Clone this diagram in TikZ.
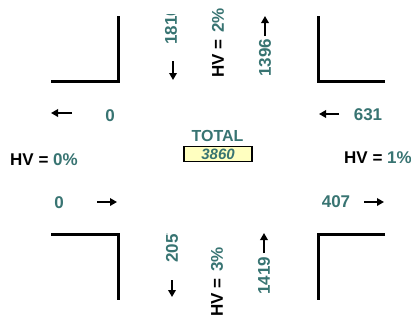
\documentclass[tikz,border=0pt]{standalone}
\usepackage{fontspec}
\setmainfont{Liberation Sans}
\usetikzlibrary{arrows.meta}
\definecolor{tealnum}{RGB}{56,116,114}
\definecolor{totfill}{RGB}{255,255,192}
\begin{document}
\begin{tikzpicture}[x=1pt,y=-1pt,
  wall/.style={line width=3pt},
  num/.style={font=\fontsize{17}{19}\selectfont\bfseries, text=tealnum, inner sep=0pt},
  lab/.style={font=\fontsize{17}{19}\selectfont\bfseries, text=black, inner sep=0pt},
  flow/.style={line width=2pt, -{Triangle[length=7pt,width=7.5pt]}},
  totbox/.style={draw=black, line width=1.6pt, fill=totfill, minimum width=68pt, minimum height=15pt, inner sep=0pt,
    font=\fontsize{15}{17}\selectfont\bfseries\itshape, text=tealnum}]
\clip (0,0) rectangle (411,322);
% corner kerbs
\draw[wall] (118,16) -- (118,81) -- (51,81);
\draw[wall] (318,16) -- (318,81) -- (385,81);
\draw[wall] (51,234) -- (118,234) -- (118,300);
\draw[wall] (385,234) -- (318,234) -- (318,300);
% north approach
\begin{scope}
  \clip (150,14) rectangle (195,60);
  \node[num, rotate=90, anchor=west] (n1810) at (171,45) {1810};
\end{scope}
\coordinate (nda) at (173,61); \coordinate (ndb) at (173,80);
\draw[flow] (nda) -- (ndb);
\node[lab, rotate=90, anchor=west] (hvn) at (218,78) {HV =\hspace{0.4em}{\color{tealnum}2\%}};
\node[num, rotate=90, anchor=west] (n1396) at (265,77) {1396};
\coordinate (nua) at (265,36); \coordinate (nub) at (265,16);
\draw[flow] (nua) -- (nub);
% south approach
\begin{scope}
  \clip (150,233) rectangle (195,280);
  \node[num, rotate=90, anchor=west] (n2057) at (172,263) {2057};
\end{scope}
\coordinate (sda) at (172,280); \coordinate (sdb) at (172,297);
\draw[flow] (sda) -- (sdb);
\node[lab, rotate=90, anchor=west] (hvs) at (217,317) {HV =\hspace{0.4em}{\color{tealnum}3\%}};
\node[num, rotate=90, anchor=west] (n1419) at (264,295) {1419};
\coordinate (sua) at (264,253); \coordinate (sub) at (264,233);
\draw[flow] (sua) -- (sub);
% west approach
\coordinate (wla) at (72,113); \coordinate (wlb) at (51,113);
\draw[flow] (wla) -- (wlb);
\node[num] (w0a) at (110,116) {0};
\node[lab, anchor=west] (hvw) at (10,160) {HV = {\color{tealnum}0\%}};
\node[num] (w0b) at (59,203) {0};
\coordinate (wra) at (97,202); \coordinate (wrb) at (117,202);
\draw[flow] (wra) -- (wrb);
% east approach
\coordinate (ela) at (339,114); \coordinate (elb) at (319,114);
\draw[flow] (ela) -- (elb);
\node[num] (e631) at (368,115) {631};
\node[lab, anchor=west] (hve) at (344,158) {HV = {\color{tealnum}1\%}};
\node[num] (e407) at (336,202) {407};
\coordinate (era) at (364,202); \coordinate (erb) at (384,202);
\draw[flow] (era) -- (erb);
% total
\node[num, font=\fontsize{16}{18}\selectfont\bfseries] (tot) at (217.5,136) {TOTAL};
\node[totbox] (totv) at (218,154) {3860};
\end{tikzpicture}
\end{document}
